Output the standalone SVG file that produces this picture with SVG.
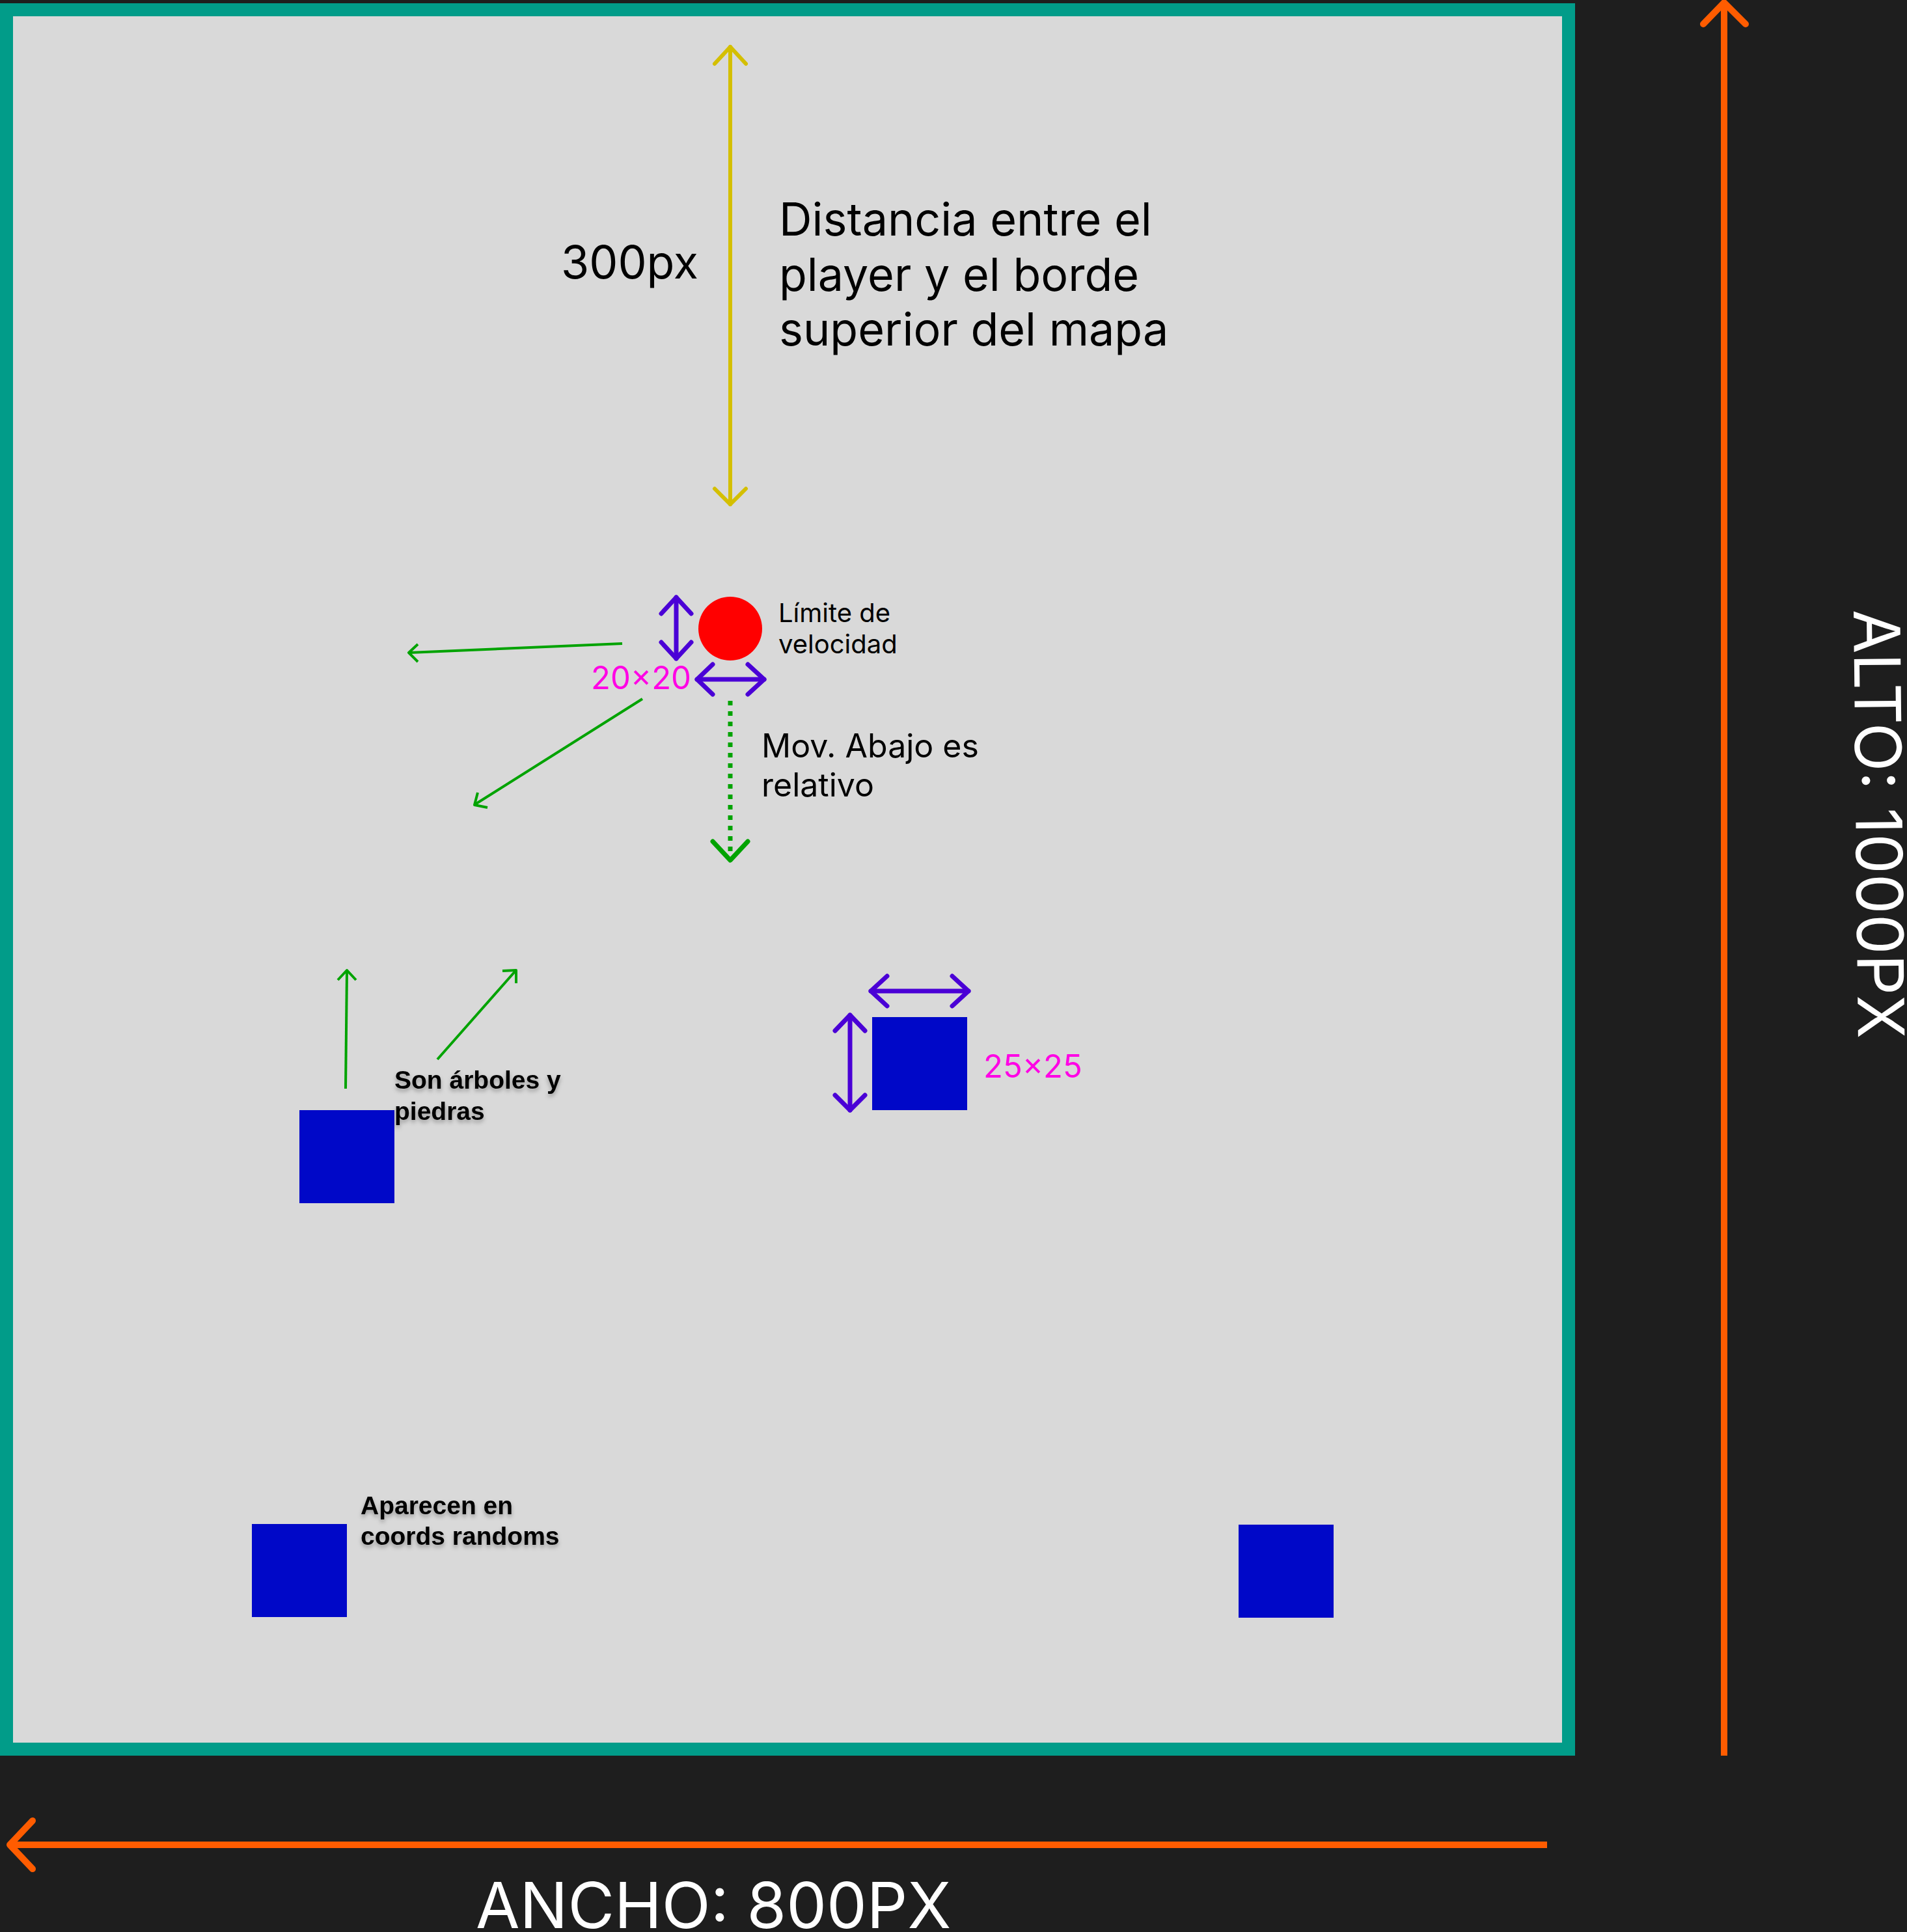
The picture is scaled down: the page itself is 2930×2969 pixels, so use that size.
<svg xmlns="http://www.w3.org/2000/svg" width="2930" height="2969" viewBox="0 0 2930 2969">
<defs>
<style>
.inter{font-family:Inter,"Noto Sans","Liberation Sans",sans-serif}
.note{font-family:"Liberation Sans",Arial,sans-serif;font-weight:bold;font-size:39px;fill:#000}
.purple{stroke:#4a00d6;stroke-width:7;fill:none;stroke-linecap:round;stroke-linejoin:round}
.thin{stroke:#00a300;stroke-width:4;fill:none;stroke-linecap:butt;stroke-linejoin:round}
.blue{fill:#0008c8}
</style>
<filter id="sh" x="-10%" y="-30%" width="120%" height="160%">
<feDropShadow dx="0" dy="4" stdDeviation="3" flood-color="#000" flood-opacity="0.3"/>
</filter>
</defs>
<rect x="0" y="0" width="2930" height="2969" fill="#1e1e1e"/>
<g id="map">
<rect x="0" y="5" width="2420" height="2693" fill="#019c89"/>
<rect x="20" y="25" width="2380" height="2653" fill="#d9d9d9"/>
</g>
<g id="connectors">
<g id="dim-alto" stroke="#ff5c00" stroke-width="10" fill="none">
<line x1="2649" y1="4" x2="2649" y2="2698" stroke-linecap="butt"/>
<polyline points="2617,37 2649,4 2682,37" stroke-linecap="round" stroke-linejoin="round"/>
</g>
<g id="dim-ancho" stroke="#ff5c00" stroke-width="10" fill="none">
<line x1="16" y1="2835" x2="2377" y2="2835" stroke-linecap="butt"/>
<polyline points="50,2798 15,2835 50,2872" stroke-linecap="round" stroke-linejoin="round"/>
</g>
<g id="dim-300" stroke="#d4bf00" stroke-width="6" fill="none" stroke-linecap="round" stroke-linejoin="round">
<line x1="1122" y1="72" x2="1122" y2="775"/>
<polyline points="1098,98 1122,72 1146,98"/>
<polyline points="1098,751 1122,775 1146,751"/>
</g>
<g id="player-dims" class="purple">
<line x1="1039" y1="918" x2="1039" y2="1012"/>
<polyline points="1016,943 1039,918 1062,943"/>
<polyline points="1016,987 1039,1012 1062,987"/>
<line x1="1071" y1="1044" x2="1174" y2="1044"/>
<polyline points="1095,1021 1071,1044 1095,1067"/>
<polyline points="1149,1021 1174,1044 1149,1067"/>
</g>
<g id="obstacle-dims" class="purple">
<line x1="1338" y1="1523" x2="1488" y2="1523"/>
<polyline points="1363,1500 1338,1523 1363,1546"/>
<polyline points="1463,1500 1488,1523 1463,1546"/>
<line x1="1306" y1="1560" x2="1306" y2="1706"/>
<polyline points="1283,1584 1306,1560 1329,1584"/>
<polyline points="1283,1683 1306,1706 1329,1683"/>
</g>
<g id="move-down">
<line x1="1122" y1="1077" x2="1122" y2="1318" stroke="#00a300" stroke-width="7" stroke-dasharray="7 9" fill="none"/>
<polyline points="1095,1293 1122,1322 1149,1293" stroke="#00a300" stroke-width="7" fill="none" stroke-linecap="round" stroke-linejoin="round"/>
</g>
<g id="green-arrows" class="thin">
<line x1="956" y1="989" x2="629" y2="1003"/>
<polyline points="642,990 628,1003 642,1017"/>
<line x1="987" y1="1074" x2="730" y2="1236"/>
<polyline points="734,1218 729,1237 749,1241"/>
<line x1="531" y1="1673" x2="533" y2="1492"/>
<polyline points="519,1506 533,1491 547,1506"/>
<line x1="672" y1="1628" x2="792" y2="1492"/>
<polyline points="772,1492 793,1491 793,1511"/>
</g>
</g>
<g id="player">
<circle cx="1122" cy="966" r="49" fill="#ff0000"/>
</g>
<g id="obstacle-1"><rect class="blue" x="460" y="1706" width="146" height="143"/></g>
<g id="obstacle-2"><rect class="blue" x="1340" y="1563" width="146" height="143"/></g>
<g id="obstacle-3"><rect class="blue" x="387" y="2342" width="146" height="143"/></g>
<g id="obstacle-4"><rect class="blue" x="1903" y="2343" width="146" height="143"/></g>
<g id="labels">
<text class="inter" x="862" y="428" font-size="70" fill="#000">300px</text>
<text class="inter" font-size="70" fill="#000"><tspan x="1197" y="362">Distancia entre el</tspan><tspan x="1197" y="447">player y el borde</tspan><tspan x="1197" y="531">superior del mapa</tspan></text>
<text class="inter" font-size="40" fill="#000"><tspan x="1196" y="956">Límite de</tspan><tspan x="1196" y="1004">velocidad</tspan></text>
<text class="inter" font-size="50" fill="#000"><tspan x="1170" y="1164">Mov. Abajo es</tspan><tspan x="1170" y="1224">relativo</tspan></text>
<text class="inter" x="908" y="1059" font-size="49" fill="#ff00e5">20×20</text>
<text class="inter" x="1511" y="1656" font-size="49" fill="#ff00e5">25×25</text>
<text class="note" filter="url(#sh)"><tspan x="606" y="1673">Son árboles y</tspan><tspan x="606" y="1721">piedras</tspan></text>
<text class="note" filter="url(#sh)"><tspan x="554" y="2327">Aparecen en</tspan><tspan x="554" y="2374">coords randoms</tspan></text>
<text class="inter" x="731" y="2963" font-size="98" fill="#ffffff">ANCHO: 800PX</text>
<text class="inter" font-size="98" fill="#ffffff" transform="translate(2848,937) rotate(89.4)">ALTO: 1000PX</text>
</g>
</svg>
